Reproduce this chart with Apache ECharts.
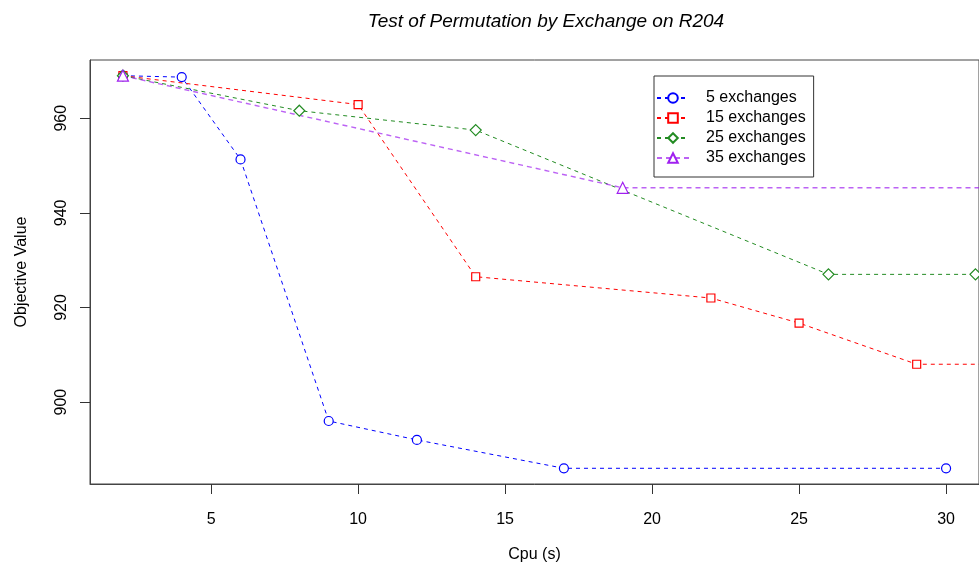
<!DOCTYPE html>
<html>
<head>
<meta charset="utf-8">
<script src="https://cdn.jsdelivr.net/npm/echarts@6/dist/echarts.min.js"></script>
<style>
  html, body { margin: 0; padding: 0; background: #fff; }
  #chart { width: 979px; height: 572px; }
</style>
</head>
<body>
<div id="chart"></div>
<script>
// CPU time (s) and objective value for each exchange setting
const cpu5  = [2, 4, 6, 9, 12, 17, 30];
const obj5  = [969, 968.7, 951.3, 896, 892, 886, 886];
const cpu15 = [2, 10, 14, 22, 25, 29, 33];
const obj15 = [969, 962.9, 926.5, 922, 916.7, 908, 908];
const cpu25 = [2, 8, 14, 26, 31];
const obj25 = [969, 961.6, 957.5, 927, 927];
const cpu35 = [2, 19, 33];
const obj35 = [969, 945.3, 945.3];

const seriesNames = ['5 exchanges', '15 exchanges', '25 exchanges', '35 exchanges'];
const xTicks = [5, 10, 15, 20, 25, 30];
const yTicks = [900, 920, 940, 960];

// axis ranges padded by 4% of the data range on each side
const xMin = 2, xMax = 30, yMin = 886, yMax = 969;
const xPad = (xMax - xMin) * 0.04, yPad = (yMax - yMin) * 0.04;

const FONT = '"Liberation Sans", Arial, sans-serif';

function pairs(xs, ys) { return xs.map((x, i) => [x, ys[i]]); }

function lineSeries(name, xs, ys, color, symbol, size, width, dash, opacity) {
  return {
    name: name,
    type: 'line',
    data: pairs(xs, ys),
    symbol: symbol,
    symbolSize: size,
    clip: true,
    itemStyle: { color: '#fff', borderColor: color, borderWidth: 1.2 },
    lineStyle: { color: color, width: width, type: dash, opacity: opacity },
    emphasis: { disabled: true },
    animation: false
  };
}

const chart = echarts.init(document.getElementById('chart'), null, { renderer: 'canvas' });
chart.setOption({
  animation: false,
  title: {
    text: 'Test of Permutation by Exchange on R204',
    left: 541, top: 7, textAlign: 'center',
    textStyle: { fontFamily: FONT, fontSize: 19, fontStyle: 'italic', fontWeight: 'normal', color: '#000' }
  },
  grid: {
    left: 90, top: 60, width: 892, height: 424,
    show: true, borderColor: '#444', borderWidth: 1, backgroundColor: 'transparent'
  },
  legend: {
    orient: 'vertical',
    left: 654, top: 76,
    padding: [14, 8, 11, 2],
    itemGap: 4,
    itemWidth: 32, itemHeight: 12,
    backgroundColor: '#fff',
    borderColor: '#333', borderWidth: 1, borderRadius: 0,
    textStyle: { fontFamily: FONT, fontSize: 16, color: '#000', padding: [0, 0, 0, 12] },
    data: seriesNames
  },
  xAxis: {
    type: 'value',
    min: xMin - xPad, max: xMax + xPad,
    name: 'Cpu (s)', nameLocation: 'middle', nameGap: 63,
    nameTextStyle: { fontFamily: FONT, fontSize: 16, color: '#000' },
    axisLine: { show: true, onZero: false, lineStyle: { color: '#444', width: 1 } },
    axisTick: { show: true, length: 10, customValues: xTicks, lineStyle: { color: '#333' } },
    axisLabel: { customValues: xTicks, margin: 28, fontFamily: FONT, fontSize: 16, color: '#000' },
    splitLine: { show: false }
  },
  yAxis: {
    type: 'value',
    min: yMin - yPad, max: yMax + yPad,
    name: 'Objective Value', nameLocation: 'middle', nameGap: 60, nameRotate: 90,
    nameTextStyle: { fontFamily: FONT, fontSize: 16, color: '#000' },
    axisLine: { show: true, onZero: false, lineStyle: { color: '#444', width: 1 } },
    axisTick: { show: true, length: 10, customValues: yTicks, lineStyle: { color: '#333' } },
    axisLabel: { customValues: yTicks, rotate: 90, margin: 20, fontFamily: FONT, fontSize: 16, color: '#000' },
    splitLine: { show: false }
  },
  series: [
    lineSeries(seriesNames[0], cpu5, obj5, '#0000FF', 'circle', 9, 1, [4, 4], 1),
    lineSeries(seriesNames[1], cpu15, obj15, '#FF0000', 'rect', 8, 1, [4, 4], 1),
    lineSeries(seriesNames[2], cpu25, obj25, '#228B22', 'diamond', 11, 1, [4, 4], 1),
    lineSeries(seriesNames[3], cpu35, obj35, '#A020F0', 'triangle', 11, 1.4, [5, 4], 0.7)
  ]
});
</script>
</body>
</html>
